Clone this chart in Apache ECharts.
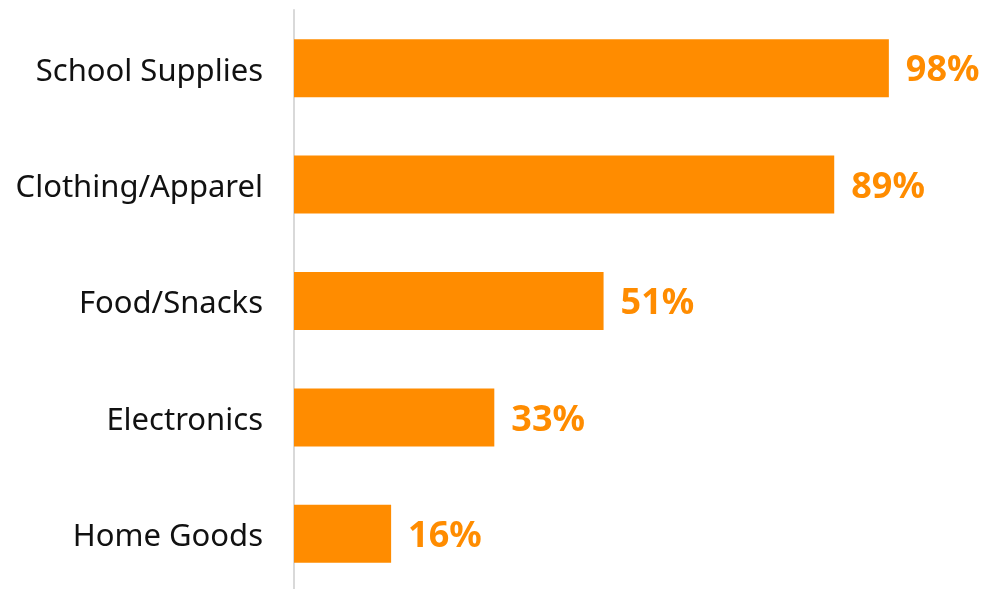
<!DOCTYPE html>
<html>
<head>
<meta charset="utf-8">
<script src="https://cdn.jsdelivr.net/npm/echarts@6/dist/echarts.min.js"></script>
<style>html,body{margin:0;padding:0;background:#fff}#c{width:985px;height:589px}</style>
</head>
<body>
<div id="c"></div>
<script>
const categories = ["School Supplies", "Clothing/Apparel", "Food/Snacks", "Electronics", "Home Goods"];
const values = [98, 89, 51, 33, 16];

const chart = echarts.init(document.getElementById('c'));
chart.setOption({
  animation: false,
  grid: { left: 294, top: 10, right: 84, bottom: -3, outerBoundsMode: 'none', containLabel: false },
  xAxis: { type: 'value', min: 0, max: 100, show: false },
  yAxis: {
    type: 'category', data: categories, inverse: true,
    axisLine: { show: true, lineStyle: { color: '#d9d9d9', width: 2 } },
    axisTick: { show: false },
    axisLabel: {
      margin: 31,
      formatter: v => '{c|' + v + '}',
      rich: { c: { color: '#111111', fontSize: 31, fontFamily: 'Noto Sans', padding: [7, 0, 0, 0] } }
    }
  },
  series: [{
    type: 'bar', data: values, barWidth: 58,
    itemStyle: { color: '#FF8C00' },
    label: {
      show: true, position: 'right', distance: 17, offset: [0, 3],
      formatter: p => p.value + '%',
      color: '#FF8C00', fontSize: 36, fontWeight: 'bold', fontFamily: 'Noto Sans'
    }
  }]
});
</script>
</body>
</html>
